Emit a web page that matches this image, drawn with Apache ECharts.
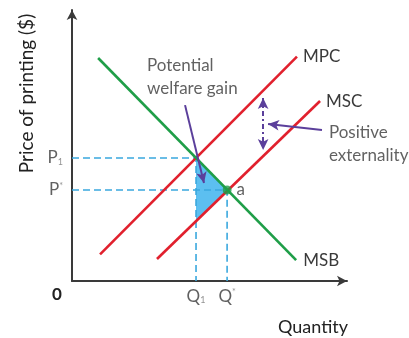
<!DOCTYPE html>
<html><head><meta charset="utf-8">
<script src="https://cdn.jsdelivr.net/npm/echarts@6/dist/echarts.min.js"></script>
<style>html,body{margin:0;padding:0;background:#fff}#c{width:409px;height:338px}</style>
</head><body><div id="c"></div>
<script>
// Curves (quantity, price) in arbitrary units
const mpcLine = [[1.02, 0.98], [8.18, 8.28]];
const mscLine = [[3.09, 0.81], [9.02, 6.64]];
const msbLine = [[0.95, 8.23], [8.15, 0.77]];
const q1 = 4.51, qStar = 5.64;
const p1 = 4.54, pStar = 3.36;
const mscAtQ1 = 2.21;
const gainArrow = [[4.11, 6.49], [4.80, 3.62]];
const extArrow = [[9.09, 5.57], [7.13, 5.79]];
const extSpan = [[6.95, 6.75], [6.95, 4.83]];
const curveNames = ['MPC', 'MSC', 'MSB'];
const yTicks = ['P', 'P'];
const yTickSubs = ['1', '*'];
const xTicks = ['Q', 'Q'];
const xTickSubs = ['1', '*'];

const FONT = 'Lato';
const TXT = '#3a3a3a';
const RED = '#e1202d', GREEN = '#1f9e48', BLUE = '#3aa8de', FILL = '#5cbff0', PURPLE = '#5b3f9b';

const tickRich = {
  b: {fontFamily: FONT, fontSize: 17, color: TXT},
  s1: {fontFamily: FONT, fontSize: 9, color: '#777', verticalAlign: 'bottom'},
  s2: {fontFamily: FONT, fontSize: 9, color: '#777', verticalAlign: 'top', padding: [0,0,6,0]}
};
function tickLabel(main, sub) {
  return '{b|' + main + '}{' + (sub === '*' ? 's2' : 's1') + '|' + sub + '}';
}

const chart = echarts.init(document.getElementById('c'));
const baseLabel = {show: true, fontFamily: FONT, fontSize: 17, color: TXT};

chart.setOption({
  animation: false,
  grid: {left: 72, right: 62, top: 10, bottom: 57},
  xAxis: {type: 'value', min: 0, max: 10,
    axisLine: {show: true, symbol: ['none', 'arrow'], symbolSize: [8, 10], lineStyle: {color: '#3a3a3a', width: 2}},
    axisTick: {show: false}, axisLabel: {show: false}, splitLine: {show: false}},
  yAxis: {type: 'value', min: 0, max: 10,
    name: 'Price of printing ($)', nameLocation: 'middle', nameGap: 36, nameRotate: 90,
    nameTextStyle: {fontFamily: FONT, fontSize: 19, color: '#222', padding: [0, 0, 0, 104]},
    axisLine: {show: true, symbol: ['none', 'arrow'], symbolSize: [8, 10], lineStyle: {color: '#3a3a3a', width: 2}},
    axisTick: {show: false}, axisLabel: {show: false}, splitLine: {show: false}},
  graphic: [
    {type: 'text', left: 278, top: 318, style: {text: 'Quantity', fontFamily: FONT, fontSize: 18, fill: '#222'}},
    {type: 'text', left: 52, top: 286, style: {text: '0', fontFamily: FONT, fontSize: 17, fontWeight: 'bold', fill: '#222'}}
  ],
  series: [
    {type: 'custom', silent: true, z: 1,
      data: [[q1, p1]],
      renderItem: function (params, api) {
        const pts = [[q1, p1], [qStar, pStar], [q1, mscAtQ1]].map(p => api.coord(p));
        return {type: 'polygon', shape: {points: pts}, style: {fill: FILL}};
      }},
    {type: 'line', data: [[0, p1], [q1, p1], [q1, 0]], symbol: 'none', z: 2,
      lineStyle: {color: BLUE, width: 1.6, type: [7, 4]}},
    {type: 'line', data: [[0, pStar], [qStar, pStar], [qStar, 0]], symbol: 'none', z: 2,
      lineStyle: {color: BLUE, width: 1.6, type: [7, 4]}},
    {type: 'line', data: mpcLine, symbol: 'none', z: 3, lineStyle: {color: RED, width: 2.6},
      endLabel: {show: true, formatter: curveNames[0], fontFamily: FONT, fontSize: 17, color: TXT, distance: 6}},
    {type: 'line', data: mscLine, symbol: 'none', z: 3, lineStyle: {color: RED, width: 2.6},
      endLabel: {show: true, formatter: curveNames[1], fontFamily: FONT, fontSize: 17, color: TXT, distance: 6}},
    {type: 'line', data: msbLine, symbol: 'none', z: 4, lineStyle: {color: GREEN, width: 2.6},
      endLabel: {show: true, formatter: curveNames[2], fontFamily: FONT, fontSize: 17, color: TXT, distance: 7}},
    {type: 'scatter', z: 6, symbol: 'circle', symbolSize: 9, itemStyle: {color: GREEN},
      data: [{value: [qStar, pStar], label: Object.assign({}, baseLabel, {position: 'right', distance: 5, formatter: 'a'})}]},
    {type: 'scatter', z: 6, symbolSize: 0, data: [
      {value: [0, p1], label: {show: true, position: 'left', distance: 9, formatter: tickLabel(yTicks[0], yTickSubs[0]), rich: tickRich}},
      {value: [0, pStar], label: {show: true, position: 'left', distance: 9, formatter: tickLabel(yTicks[1], yTickSubs[1]), rich: tickRich}},
      {value: [q1, 0], label: {show: true, position: 'bottom', distance: 7, formatter: tickLabel(xTicks[0], xTickSubs[0]), rich: tickRich}},
      {value: [qStar, 0], label: {show: true, position: 'bottom', distance: 7, formatter: tickLabel(xTicks[1], xTickSubs[1]), rich: tickRich}},
      {value: gainArrow[0], label: Object.assign({}, baseLabel, {position: 'top', distance: 5, offset: [-38, 0], align: 'left', lineHeight: 23, formatter: 'Potential\nwelfare gain'})},
      {value: extArrow[0], label: Object.assign({}, baseLabel, {position: 'right', distance: 7, offset: [0, 14], lineHeight: 23, formatter: 'Positive\nexternality'})}
    ]},
    {type: 'line', data: [], z: 5, markLine: {silent: true, symbol: ['none', 'arrow'], symbolSize: [8, 11], label: {show: false},
      lineStyle: {color: PURPLE, width: 2, type: 'solid'},
      data: [[{coord: gainArrow[0]}, {coord: gainArrow[1]}], [{coord: extArrow[0]}, {coord: extArrow[1]}]]}},
    {type: 'line', data: [], z: 5, markLine: {silent: true, symbol: ['arrow', 'arrow'], symbolSize: [8, 11], label: {show: false},
      lineStyle: {color: PURPLE, width: 2, type: [5, 3, 2, 3]},
      data: [[{coord: extSpan[0]}, {coord: extSpan[1]}]]}}
  ]
});
</script></body></html>
